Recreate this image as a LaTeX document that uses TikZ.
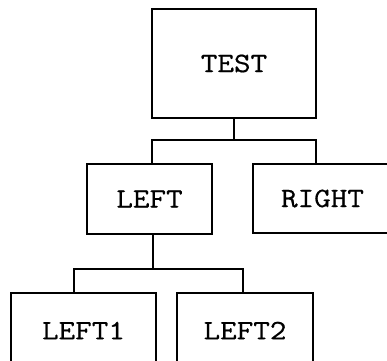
\documentclass[tikz,border=0pt]{standalone}
\usepackage{fontspec}
\newfontfamily\boxfont{Latin Modern Mono}[FakeStretch=1.15, FakeBold=0.6]
\usetikzlibrary{positioning}

\begin{document}
\begin{tikzpicture}[
    x=1pt, y=-1pt,
    box/.style={rectangle, draw, line width=1.2pt, inner sep=0pt,
                font=\fontsize{28}{30}\selectfont\boxfont},
    link/.style={line width=1.2pt}
]
\useasboundingbox (0,0) rectangle (387,360);
\clip (0,0) rectangle (387,360);
\node[box, minimum width=164, minimum height=109] (test) at (234, 63.5) {TEST};
\node[box, minimum width=125, minimum height=70] (left) at (149.5, 199) {LEFT};
\node[box, minimum width=139, minimum height=69] (right) at (322.5, 198.5) {RIGHT};
\node[box, minimum width=145, minimum height=75] (left1) at (83.5, 330.5) {LEFT1};
\node[box, minimum width=136, minimum height=75] (left2) at (245, 330.5) {LEFT2};
\coordinate (busa) at (0, 140);
\coordinate (busb) at (0, 269);
\draw[link] (test.south) -- (test.south |- busa);
\draw[link] ([xshift=2.5pt]left.north) |- ([xshift=-6.5pt]right.north |- busa)
    -- ([xshift=-6.5pt]right.north);
\draw[link] ([xshift=3.5pt]left.south) -- ([xshift=3.5pt]left.south |- busb);
\draw[link] ([xshift=-9.5pt]left1.north) |- ([xshift=-2pt]left2.north |- busb)
    -- ([xshift=-2pt]left2.north);
\end{tikzpicture}
\end{document}
